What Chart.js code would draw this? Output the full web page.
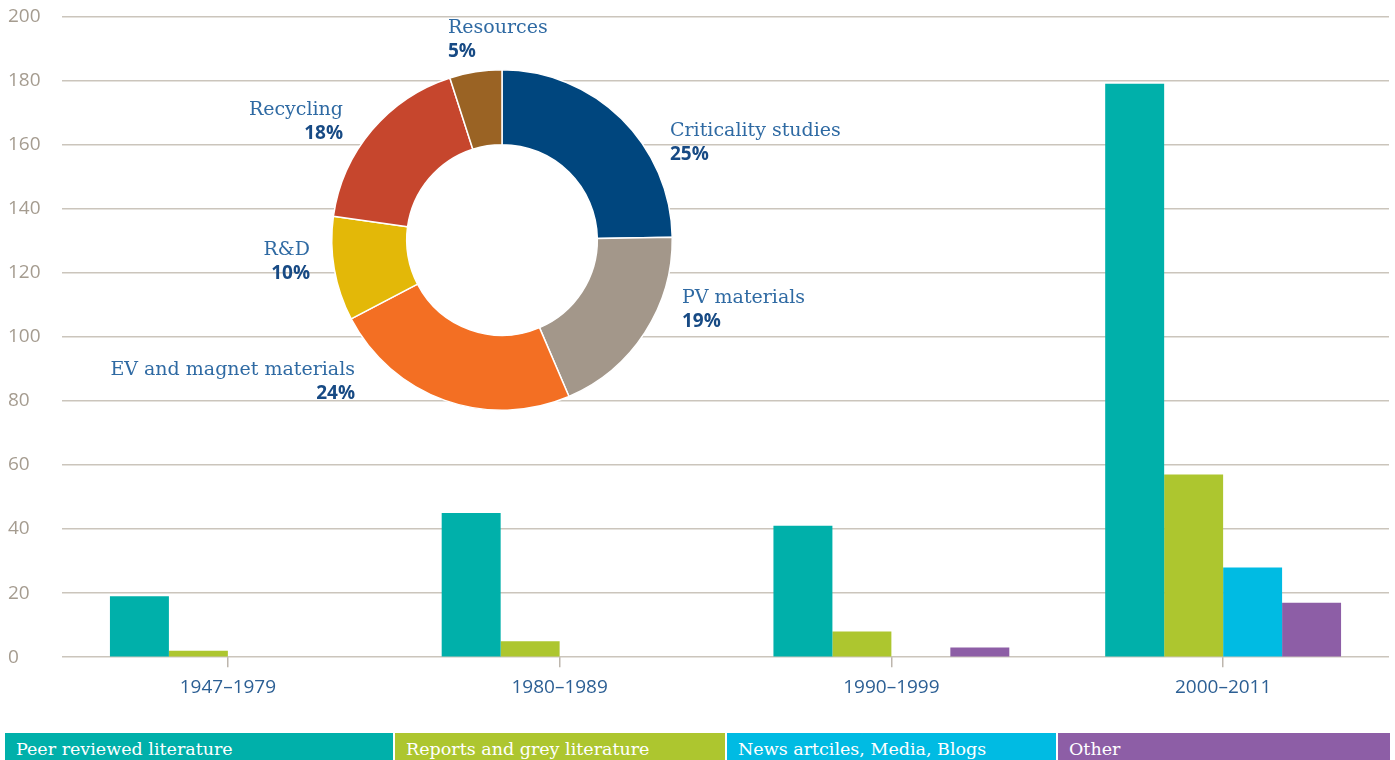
<!DOCTYPE html>
<html>
<head>
<meta charset="utf-8">
<script src="https://cdn.jsdelivr.net/npm/chart.js@4.4.0/dist/chart.umd.min.js"></script>
<style>
body{margin:0;background:#fff;width:1395px;height:760px;overflow:hidden;position:relative}
#barWrap{position:absolute;left:0;top:0;width:1395px;height:720px}
#donutWrap{position:absolute;left:92px;top:0;width:820px;height:460px}
#legend{position:absolute;left:5px;top:733px;display:flex;gap:2px}
#legend div{height:30px;color:#fff;font-family:"DejaVu Serif";font-size:17.5px;line-height:33px;padding-left:11px;box-sizing:border-box;white-space:nowrap}
</style>
</head>
<body>
<div id="barWrap"><canvas id="bars"></canvas></div>
<div id="donutWrap"><canvas id="donut"></canvas></div>
<div id="legend"></div>
<script>
// bar chart data: number of publications per period
const periods = ['1947–1979', '1980–1989', '1990–1999', '2000–2011']
const peerReviewed = [19, 45, 41, 179]
const reportsGrey = [2, 5, 8, 57]
const newsMedia = [0, 0, 0, 28]
const otherSources = [0, 0, 3, 17]
const seriesNames = ['Peer reviewed literature', 'Reports and grey literature', 'News artciles, Media, Blogs', 'Other']
const seriesColors = ['#00b0aa', '#adc62f', '#00bbe3', '#8d5ea6']

// donut data: share of topics (%)
const topics = ['Criticality studies', 'PV materials', 'EV and magnet materials', 'R&D', 'Recycling', 'Resources']
const topicShares = [25, 19, 24, 10, 18, 5]
const topicColors = ['#00467e', '#a3978a', '#f36f23', '#e3b808', '#c6462d', '#9a6324']

// label placement around the donut (offset from centre, text align)
const topicLabelPos = [[168, -104, 'left'], [180, 63, 'left'], [-147, 135, 'right'],
  [-192, 15, 'right'], [-159, -125, 'right'], [-54, -207, 'left']]
const legendWidths = [388, 330, 329, 332]

const barSets = [peerReviewed, reportsGrey, newsMedia, otherSources]

new Chart(document.getElementById('bars'), {
  type: 'bar',
  data: {
    labels: periods,
    datasets: barSets.map((d, i) => ({
      label: seriesNames[i],
      data: d,
      backgroundColor: seriesColors[i],
      borderWidth: 0
    }))
  },
  options: {
    responsive: true,
    maintainAspectRatio: false,
    animation: false,
    layout: {padding: {left: 8, right: 6, top: 0, bottom: 12}},
    plugins: {legend: {display: false}, tooltip: {enabled: false}},
    datasets: {bar: {categoryPercentage: 0.711, barPercentage: 1}},
    scales: {
      x: {
        grid: {drawOnChartArea: false, drawTicks: true, tickLength: 10, offset: false, color: '#bdb6ad', lineWidth: 1.5},
        border: {display: false},
        ticks: {color: '#2c5f94', font: {family: 'Open Sans', size: 19}, padding: 9}
      },
      y: {
        min: 0,
        max: 200,
        afterFit: s => { s.width = 54 },
        ticks: {stepSize: 20, color: '#a59c90', font: {family: 'Open Sans', size: 19}, padding: 5, crossAlign: 'far'},
        grid: {color: '#cbc5bc', lineWidth: 1.5, drawTicks: false},
        border: {display: false}
      }
    }
  }
})

// white disc under the ring so grid lines don't show in the hole
const holePlugin = {
  id: 'hole',
  beforeDatasetsDraw(chart) {
    let arc = chart.getDatasetMeta(0).data[0]
    let ctx = chart.ctx
    ctx.save()
    ctx.beginPath()
    ctx.arc(arc.x, arc.y, arc.outerRadius, 0, Math.PI * 2)
    ctx.fillStyle = '#fff'
    ctx.fill()
    ctx.restore()
  }
}

const topicLabels = {
  id: 'topicLabels',
  afterDatasetsDraw(chart) {
    let arc = chart.getDatasetMeta(0).data[0]
    let ctx = chart.ctx
    ctx.save()
    for (let i = 0; i < topics.length; i++) {
      let p = topicLabelPos[i]
      let x = arc.x + p[0]
      let y = arc.y + p[1]
      ctx.textAlign = p[2]
      ctx.textBaseline = 'alphabetic'
      ctx.fillStyle = '#2f6aa3'
      ctx.font = '19px "DejaVu Serif"'
      ctx.fillText(topics[i], x, y)
      ctx.fillStyle = '#174a84'
      ctx.font = 'bold 19px "Open Sans"'
      ctx.fillText(topicShares[i] + '%', x, y + 24)
    }
    ctx.restore()
  }
}

new Chart(document.getElementById('donut'), {
  type: 'doughnut',
  data: {
    labels: topics,
    datasets: [{data: topicShares, backgroundColor: topicColors, borderColor: '#fff', borderWidth: 1.5}]
  },
  options: {
    responsive: true,
    maintainAspectRatio: false,
    animation: false,
    cutout: '56%',
    layout: {padding: {left: 239, right: 239, top: 69, bottom: 49}},
    plugins: {legend: {display: false}, tooltip: {enabled: false}}
  },
  plugins: [holePlugin, topicLabels]
})

// legend bands along the bottom
let leg = document.getElementById('legend')
for (let i = 0; i < seriesNames.length; i++) {
  let d = document.createElement('div')
  d.style.background = seriesColors[i]
  d.style.width = legendWidths[i] + 'px'
  d.textContent = seriesNames[i]
  leg.append(d)
}
</script>
</body>
</html>
